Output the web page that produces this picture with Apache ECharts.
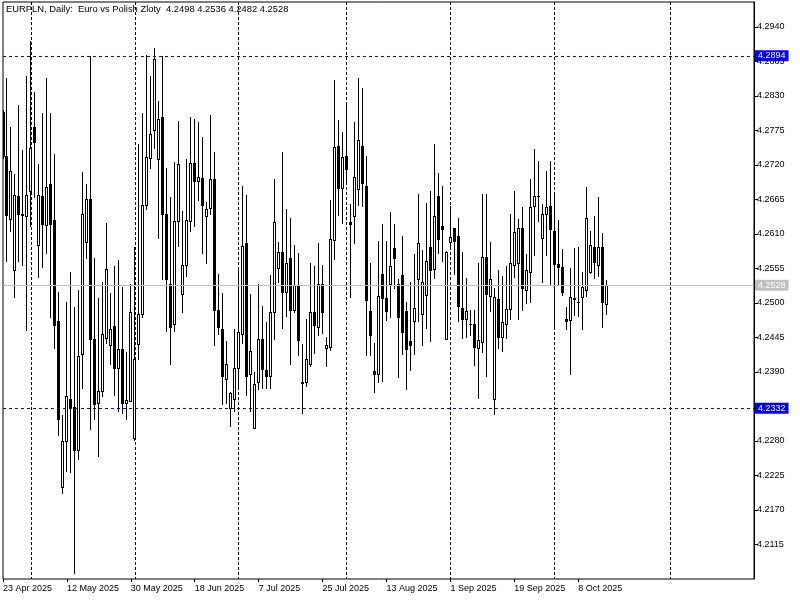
<!DOCTYPE html>
<html>
<head>
<meta charset="utf-8">
<script src="https://cdn.jsdelivr.net/npm/echarts@6/dist/echarts.min.js"></script>
<style>
html,body{margin:0;padding:0;background:#fff;}
#chart{width:800px;height:600px;}
</style>
</head>
<body>
<div id="chart"></div>
<script>
// ---- data (EURPLN daily, bar 0 = 23 Apr 2025) ----
const opens = [4.2805,4.2734,4.2634,4.2553,4.2671,4.2642,4.2638,4.2679,4.2781,4.2593,
4.2671,4.2624,4.2690,4.2632,4.2471,4.2206,4.2279,4.2346,4.2334,4.2265,
4.2418,4.2597,4.2665,4.2442,4.2341,4.2360,4.2444,4.2432,4.2463,4.2396,
4.2426,4.2341,4.2344,4.2284,4.2434,4.2483,4.2656,4.2731,4.2775,4.2730,
4.2797,4.2642,4.2530,4.2466,4.2630,4.2514,4.2560,4.2631,4.2723,4.2694,
4.2699,4.2638,4.2651,4.2697,4.2488,4.2458,4.2378,4.2333,4.2347,4.2396,
4.2450,4.2596,4.2387,4.2301,4.2374,4.2442,4.2393,4.2383,4.2486,4.2555,
4.2581,4.2517,4.2572,4.2489,4.2527,4.2374,4.2373,4.2403,4.2485,4.2462,
4.2530,4.2428,4.2430,4.2600,4.2750,4.2683,4.2734,4.2629,4.2638,4.2682,
4.2750,4.2687,4.2487,4.2391,4.2387,4.2546,4.2508,4.2530,4.2587,4.2530,
4.2544,4.2487,4.2439,4.2471,4.2538,4.2483,4.2513,4.2589,4.2554,4.2671,
4.2622,4.2442,4.2597,4.2619,4.2607,4.2492,4.2475,4.2467,4.2466,4.2428,
4.2437,4.2573,4.2511,4.2347,4.2506,4.2446,4.2467,4.2490,4.2560,4.2563,
4.2619,4.2521,4.2549,4.2654,4.2671,4.2603,4.2642,4.2655,4.2615,4.2562,
4.2557,4.2474,4.2472,4.2506,4.2502,4.2510,4.2521,4.2550,4.2589,4.2560,
4.2589,4.2498];
const highs = [4.2807,4.2858,4.2781,4.2706,4.2815,4.2743,4.2861,4.2917,4.2836,4.2721,
4.2802,4.2858,4.2802,4.2738,4.2517,4.2321,4.2502,4.2550,4.2494,4.2521,
4.2709,4.2690,4.2894,4.2572,4.2508,4.2534,4.2628,4.2515,4.2558,4.2569,
4.2525,4.2422,4.2530,4.2589,4.2753,4.2802,4.2896,4.2861,4.2906,4.2822,
4.2894,4.2715,4.2669,4.2724,4.2790,4.2646,4.2730,4.2797,4.2793,4.2789,
4.2764,4.2661,4.2800,4.2740,4.2546,4.2516,4.2439,4.2358,4.2459,4.2553,
4.2687,4.2672,4.2514,4.2390,4.2530,4.2495,4.2470,4.2544,4.2698,4.2597,
4.2741,4.2649,4.2636,4.2593,4.2580,4.2435,4.2474,4.2564,4.2558,4.2596,
4.2561,4.2446,4.2664,4.2855,4.2792,4.2773,4.2817,4.2658,4.2789,4.2858,
4.2842,4.2734,4.2563,4.2436,4.2599,4.2626,4.2599,4.2645,4.2625,4.2538,
4.2607,4.2501,4.2534,4.2578,4.2674,4.2585,4.2660,4.2678,4.2754,4.2707,
4.2687,4.2583,4.2654,4.2620,4.2636,4.2581,4.2540,4.2489,4.2488,4.2563,
4.2674,4.2674,4.2597,4.2524,4.2553,4.2543,4.2558,4.2641,4.2678,4.2634,
4.2653,4.2578,4.2698,4.2746,4.2726,4.2657,4.2711,4.2727,4.2674,4.2632,
4.2586,4.2494,4.2556,4.2588,4.2589,4.2549,4.2684,4.2614,4.2638,4.2669,
4.2612,4.2536];
const lows = [4.2731,4.2567,4.2615,4.2509,4.2567,4.2561,4.2456,4.2622,4.2669,4.2541,
4.2557,4.2579,4.2477,4.2428,4.2289,4.2196,4.2232,4.2230,4.2069,4.2251,
4.2365,4.2572,4.2299,4.2315,4.2255,4.2351,4.2436,4.2403,4.2353,4.2327,
4.2324,4.2315,4.2344,4.2282,4.2410,4.2478,4.2649,4.2715,4.2747,4.2604,
4.2538,4.2455,4.2403,4.2455,4.2590,4.2485,4.2543,4.2615,4.2623,4.2664,
4.2580,4.2564,4.2642,4.2433,4.2451,4.2338,4.2341,4.2304,4.2328,4.2364,
4.2436,4.2353,4.2328,4.2301,4.2363,4.2364,4.2364,4.2364,4.2443,4.2534,
4.2460,4.2479,4.2403,4.2486,4.2417,4.2324,4.2367,4.2399,4.2420,4.2449,
4.2452,4.2400,4.2425,4.2570,4.2640,4.2628,4.2690,4.2510,4.2596,4.2656,
4.2655,4.2417,4.2417,4.2358,4.2373,4.2376,4.2472,4.2478,4.2523,4.2382,
4.2419,4.2363,4.2393,4.2419,4.2471,4.2433,4.2460,4.2439,4.2540,4.2579,
4.2566,4.2442,4.2586,4.2546,4.2471,4.2444,4.2446,4.2449,4.2401,4.2349,
4.2422,4.2383,4.2487,4.2322,4.2428,4.2423,4.2444,4.2474,4.2542,4.2475,
4.2489,4.2500,4.2502,4.2576,4.2630,4.2534,4.2576,4.2530,4.2459,4.2528,
4.2512,4.2459,4.2387,4.2481,4.2479,4.2458,4.2511,4.2547,4.2540,4.2543,
4.2462,4.2482];
const closes = [4.2734,4.2640,4.2711,4.2672,4.2642,4.2640,4.2672,4.2747,4.2757,4.2672,
4.2625,4.2685,4.2625,4.2464,4.2315,4.2279,4.2351,4.2333,4.2266,4.2415,
4.2642,4.2665,4.2442,4.2338,4.2360,4.2450,4.2554,4.2458,4.2396,4.2426,
4.2340,4.2345,4.2485,4.2410,4.2483,4.2656,4.2733,4.2770,4.2889,4.2793,
4.2642,4.2538,4.2462,4.2630,4.2721,4.2560,4.2632,4.2723,4.2694,4.2701,
4.2656,4.2649,4.2697,4.2488,4.2462,4.2383,4.2402,4.2356,4.2396,4.2453,
4.2591,4.2384,4.2423,4.2370,4.2442,4.2394,4.2384,4.2485,4.2629,4.2581,
4.2517,4.2564,4.2489,4.2528,4.2440,4.2372,4.2410,4.2485,4.2464,4.2530,
4.2486,4.2432,4.2602,4.2749,4.2683,4.2732,4.2713,4.2625,4.2700,4.2759,
4.2691,4.2505,4.2448,4.2387,4.2511,4.2507,4.2487,4.2559,4.2572,4.2478,
4.2453,4.2426,4.2433,4.2491,4.2596,4.2533,4.2567,4.2553,4.2639,4.2602,
4.2618,4.2581,4.2605,4.2599,4.2495,4.2474,4.2487,4.2466,4.2429,4.2440,
4.2573,4.2514,4.2538,4.2509,4.2445,4.2470,4.2490,4.2563,4.2613,4.2619,
4.2524,4.2553,4.2653,4.2671,4.2670,4.2641,4.2653,4.2618,4.2562,4.2557,
4.2517,4.2471,4.2509,4.2507,4.2501,4.2525,4.2636,4.2593,4.2565,4.2589,
4.2501,4.2528];

const firstDate = '2025-04-23';
const totalSlots = 189;            // bars incl. empty future space
const dateTicks = ['23 Apr 2025','12 May 2025','30 May 2025','18 Jun 2025','7 Jul 2025',
                   '25 Jul 2025','13 Aug 2025','1 Sep 2025','19 Sep 2025','8 Oct 2025'];
const gridBars = [7,33,59,86,112,138,167];   // month separators (vertical dashed lines)
const yTicks = [4.2115,4.2170,4.2225,4.2280,4.2335,4.2390,4.2445,4.2500,4.2555,
                4.2610,4.2665,4.2720,4.2775,4.2830,4.2885,4.2940];
const levelLines = [4.2894, 4.2332];
const yMin = 4.20596, yMax = 4.29798;
const titleText = 'EURPLN, Daily:  Euro vs Polish Zloty  4.2498 4.2536 4.2482 4.2528';

// ---- categories: trading calendar (Sun-Fri bars) ----
const MON = ['Jan','Feb','Mar','Apr','May','Jun','Jul','Aug','Sep','Oct','Nov','Dec'];
const categories = [];
{
  const d = new Date(firstDate + 'T12:00:00Z');
  while (categories.length < totalSlots) {
    if (d.getUTCDay() !== 6) {
      categories.push(d.getUTCDate() + ' ' + MON[d.getUTCMonth()] + ' ' + d.getUTCFullYear());
    }
    d.setUTCDate(d.getUTCDate() + 1);
  }
}
const candleData = opens.map((o, i) => [i, o, closes[i], lows[i], highs[i]]);
const lastClose = closes[closes.length - 1];

const FONT = 'Liberation Sans';
const chart = echarts.init(document.getElementById('chart'), null, {renderer: 'canvas'});

// pixel-crisp MT4-style candle drawn through the axes' coordinate mapping
function renderCandle(params, api) {
  const i = api.value(0);
  const o = api.value(1), c = api.value(2), l = api.value(3), h = api.value(4);
  const pO = api.coord([i, o]), pC = api.coord([i, c]);
  const pL = api.coord([i, l]), pH = api.coord([i, h]);
  const px = Math.floor(pO[0]);
  const yTop = Math.round(Math.min(pO[1], pC[1]));
  const yBot = Math.round(Math.max(pO[1], pC[1]));
  const yHi = Math.round(pH[1]), yLo = Math.round(pL[1]);
  const kids = [{
    type: 'rect', shape: {x: px, y: yHi, width: 1, height: Math.max(1, yLo - yHi + 1)},
    style: {fill: '#000'}
  }];
  if (c < o) {
    kids.push({type: 'rect', shape: {x: px - 1, y: yTop, width: 3, height: Math.max(1, yBot - yTop + 1)},
               style: {fill: '#000'}});
  } else if (yBot - yTop >= 2) {
    kids.push({type: 'rect', shape: {x: px - 1, y: yTop, width: 3, height: yBot - yTop + 1},
               style: {fill: '#000'}});
    kids.push({type: 'rect', shape: {x: px, y: yTop + 1, width: 1, height: yBot - yTop - 1},
               style: {fill: '#fff'}});
  } else {
    kids.push({type: 'rect', shape: {x: px - 1, y: yTop, width: 3, height: Math.max(1, yBot - yTop + 1)},
               style: {fill: '#000'}});
  }
  return {type: 'group', children: kids};
}

function lvlLabel(bg) {
  return {
    show: true, position: 'end', distance: 1,
    formatter: p => Number(p.value).toFixed(4),
    color: '#fff', backgroundColor: bg, padding: [1, 3, 0, 3],
    fontFamily: FONT, fontSize: 9, lineHeight: 10
  };
}

chart.setOption({
  animation: false,
  backgroundColor: '#fff',
  title: {
    text: titleText, left: 6, top: 5, padding: 0,
    textStyle: {fontFamily: FONT, fontSize: 9.4, fontWeight: 'normal', color: '#000'}
  },
  grid: {
    left: 2, top: 2, width: 752, height: 577,
    show: true, borderColor: '#000', borderWidth: 1, backgroundColor: '#fff'
  },
  xAxis: {
    type: 'category', data: categories, boundaryGap: false,
    axisLine: {show: false},
    axisTick: {show: true, length: 3, lineStyle: {color: '#000'},
               interval: (i, v) => dateTicks.includes(v)},
    axisLabel: {
      interval: (i, v) => dateTicks.includes(v),
      align: 'left', margin: 5, color: '#000', fontFamily: FONT, fontSize: 9
    },
    splitLine: {
      show: true, interval: (i) => gridBars.includes(i),
      lineStyle: {color: '#000', type: [3, 2], width: 1}
    }
  },
  yAxis: {
    type: 'value', position: 'right', min: yMin, max: yMax, scale: true,
    axisLine: {show: true, lineStyle: {color: '#000'}},
    axisTick: {show: true, length: 4, lineStyle: {color: '#000'}, customValues: yTicks},
    axisLabel: {customValues: yTicks, formatter: v => v.toFixed(4), margin: 3,
                color: '#000', fontFamily: FONT, fontSize: 9},
    splitLine: {show: false}
  },
  series: [{
    type: 'custom',
    data: candleData,
    encode: {x: 0, y: [1, 2, 3, 4]},
    renderItem: renderCandle,
    clip: true,
    markLine: {
      silent: true, symbol: ['none', 'none'], animation: false, precision: 4,
      data: [
        {yAxis: levelLines[0], lineStyle: {color: '#0000ff', type: [3, 3], width: 1}, label: lvlLabel('#0000ff')},
        {yAxis: levelLines[1], lineStyle: {color: '#0000ff', type: [3, 3], width: 1}, label: lvlLabel('#0000ff')},
        {yAxis: lastClose, lineStyle: {color: '#c0c0c0', type: 'solid', width: 1}, label: lvlLabel('#c0c0c0')}
      ]
    }
  }]
});
</script>
</body>
</html>
